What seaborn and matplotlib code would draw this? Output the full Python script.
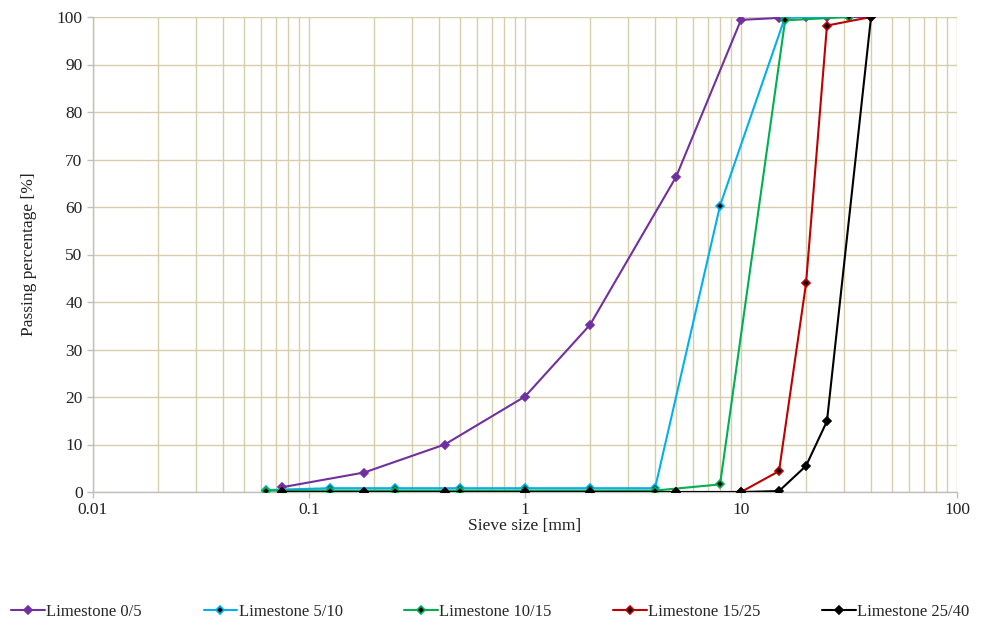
import numpy as np
import pandas as pd
import matplotlib
matplotlib.use("Agg")
import matplotlib.pyplot as plt
import seaborn as sns
from matplotlib.ticker import FixedLocator, LogLocator, NullFormatter, FixedFormatter

# ---- data ----
series_names = ["Limestone 0/5", "Limestone 5/10", "Limestone 10/15",
                "Limestone 15/25", "Limestone 25/40"]

sizes_0_5 = [0.075, 0.18, 0.425, 1, 2, 5, 10, 15, 20, 25, 40]
pass_0_5 = [1.0, 4.1, 10.0, 20.1, 35.2, 66.3, 99.4, 99.8, 100, 100, 100]

sizes_5_10 = [0.063, 0.125, 0.25, 0.5, 1, 2, 4, 8, 16, 31.5]
pass_5_10 = [0.4, 0.8, 0.8, 0.8, 0.8, 0.8, 0.8, 60.3, 100, 100]

sizes_10_15 = [0.063, 0.125, 0.25, 0.5, 1, 2, 4, 8, 16, 31.5]
pass_10_15 = [0.3, 0.3, 0.3, 0.3, 0.3, 0.3, 0.3, 1.6, 99.3, 100]

sizes_15_25 = [0.075, 0.18, 0.425, 1, 2, 5, 10, 15, 20, 25, 40]
pass_15_25 = [0, 0, 0, 0, 0, 0, 0, 4.4, 43.9, 98.2, 100]

sizes_25_40 = [0.075, 0.18, 0.425, 1, 2, 5, 10, 15, 20, 25, 40]
pass_25_40 = [0, 0, 0, 0, 0, 0, 0, 0.2, 5.5, 14.9, 100]

colors = ["#7030a0", "#00b0f0", "#00b050", "#c00000", "#000000"]
x_ticks = [0.01, 0.1, 1, 10, 100]
x_tick_labels = ["0.01", "0.1", "1", "10", "100"]
y_ticks = list(range(0, 101, 10))

all_sizes = [sizes_0_5, sizes_5_10, sizes_10_15, sizes_15_25, sizes_25_40]
all_pass = [pass_0_5, pass_5_10, pass_10_15, pass_15_25, pass_25_40]

frames = []
for name, xs, ys in zip(series_names, all_sizes, all_pass):
    frames.append(pd.DataFrame({"size": xs, "passing": ys, "series": name}))
df = pd.concat(frames, ignore_index=True)

# ---- style ----
sns.set_style("white")
plt.rcParams["font.family"] = ["Liberation Serif", "DejaVu Serif"]
plt.rcParams["font.size"] = 12

fig = plt.figure(figsize=(9.81, 6.30), dpi=100)
ax = fig.add_axes([93 / 981, 1 - 492 / 630, 864 / 981, 475 / 630])

sns.lineplot(data=df, x="size", y="passing", hue="series",
             hue_order=series_names, palette=colors, marker="D",
             markersize=4.2, linewidth=1.5, sort=False, estimator=None,
             markeredgewidth=1.2, ax=ax, legend=False, zorder=3)

ax.set_xscale("log")
ax.set_xlim(0.01, 100)
ax.set_ylim(0, 100)

# marker styling: colored diamond with black centre for mid series
handles = []
for line, name, c in zip(ax.lines, series_names, colors):
    line.set_markeredgecolor(c)
    if name in ("Limestone 5/10", "Limestone 10/15", "Limestone 15/25"):
        line.set_markerfacecolor("black")
    else:
        line.set_markerfacecolor(c)
    handles.append(line)

ax.xaxis.set_major_locator(FixedLocator(x_ticks))
ax.xaxis.set_major_formatter(FixedFormatter(x_tick_labels))
ax.xaxis.set_minor_locator(LogLocator(base=10, subs=np.arange(2, 10)))
ax.xaxis.set_minor_formatter(NullFormatter())
ax.yaxis.set_major_locator(FixedLocator(y_ticks))

grid_c = "#d5cdab"
ax.grid(which="major", axis="both", color=grid_c, linewidth=1.0, zorder=0)
ax.grid(which="minor", axis="x", color=grid_c, linewidth=1.0, zorder=0)
ax.set_axisbelow(True)

for s in ("top", "right"):
    ax.spines[s].set_visible(False)
for s in ("left", "bottom"):
    ax.spines[s].set_color("#bfbfbf")
    ax.spines[s].set_linewidth(1.0)

ax.tick_params(axis="both", which="major", direction="out", length=4,
               width=1, color="#bfbfbf", labelsize=12.5, labelcolor="#222222",
               left=True, bottom=True)
ax.tick_params(axis="x", which="minor", length=0)

ax.set_xlabel("Sieve size [mm]", fontsize=12.5, labelpad=0, color="#222222")
ax.set_ylabel("Passing percentage [%]", fontsize=12.5, labelpad=14, color="#222222")

fig.legend(handles, series_names, loc="center", bbox_to_anchor=(0.5, 1 - 612 / 630),
           ncol=5, frameon=False, fontsize=12, handlelength=2.0,
           handletextpad=0.1, columnspacing=3.7)

fig.savefig("out.png", dpi=100)
